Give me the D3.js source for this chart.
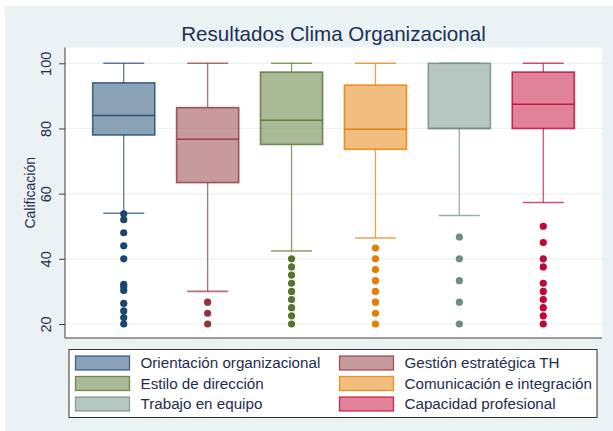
<!DOCTYPE html>
<html lang="es">
  <head>
    <meta charset="utf-8">
    <title>Resultados Clima Organizacional</title>
    <script src="https://d3js.org/d3.v7.min.js"></script>
    <style>
      body { margin: 0; background: #fff; }
      text { font-family: "Liberation Sans", Arial, sans-serif; }
    </style>
  </head>
  <body>
    <svg></svg>
  <script>

// Data

  var categories = ["Orientación organizacional", "Gestión estratégica TH",
                    "Estilo de dirección", "Comunicación e integración",
                    "Trabajo en equipo", "Capacidad profesional"];
  var whiskerLow  = [54, 30, 42.4, 46.4, 53.3, 57.3];
  var q1          = [78, 63.4, 75.1, 73.6, 80, 80];
  var median      = [84, 76.7, 82.5, 79.8, 80, 87.4];
  var q3          = [94, 86.4, 97.3, 93.3, 100, 97.3];
  var whiskerHigh = [100, 100, 100, 100, 100, 100];
  var outliers = [
    [53.8, 52, 48, 44, 40, 32.2, 31.5, 30.3, 26.3, 24, 22, 20],
    [26.7, 23.3, 20],
    [40, 37.5, 35, 32.5, 30, 27.5, 25, 22.5, 20],
    [43.3, 40, 36.7, 33.3, 30, 26.7, 23.3, 20],
    [46.7, 40, 33.3, 26.7, 20],
    [50, 45, 40, 37.5, 32.5, 30, 27.5, 25, 22.5, 20]
  ];
  var yTicks = [20, 40, 60, 80, 100];
  var colors = ["#1a476f", "#90353b", "#55752f", "#e37e00", "#6e8e84", "#c10534"];

  var w = 613;
  var h = 431;
  var plot = {left: 65, right: 602, top: 47.5, bottom: 338};

  var svg = d3.select("svg")
      .attr("width", w)
      .attr("height", h);

  // outer graph region
  svg.append("rect")
      .attr("x", 5)
      .attr("y", 6)
      .attr("width", w - 5)
      .attr("height", h - 6)
      .attr("fill", "#eaf2f3");

  svg.append("rect")
      .attr("x", plot.left)
      .attr("y", plot.top)
      .attr("width", plot.right - plot.left)
      .attr("height", plot.bottom - plot.top)
      .attr("fill", "#fff");

  var xScale = d3.scalePoint()
      .domain(categories)
      .range([plot.left, plot.right])
      .padding(0.7);

  var boxW = xScale.step() * 0.74;
  var capW = boxW * 0.66;

  var yScale = d3.scaleLinear()
      .domain([20, 100])
      .range([324, 63.3]);

  var color = d3.scaleOrdinal()
      .domain(categories)
      .range(colors);

  // gridlines
  svg.append("g")
    .selectAll("line")
    .data(yTicks)
    .enter().append("line")
      .attr("x1", plot.left)
      .attr("x2", plot.right)
      .attr("y1", d => yScale(d))
      .attr("y2", d => yScale(d))
      .attr("stroke", "#eaf2f3")
      .attr("stroke-width", 1.2);

  // y axis
  var yAxis = d3.axisLeft(yScale)
      .tickValues(yTicks)
      .tickSize(6);

  var gy = svg.append("g")
      .attr("class", "yAxis")
      .attr("transform", `translate(${plot.left}, 0)`)
      .call(yAxis);

  gy.select(".domain").remove();
  gy.selectAll(".tick line").attr("stroke", "#404040");
  gy.selectAll(".tick text")
      .attr("font-size", 14.5)
      .attr("fill", "#1e2d4f")
      .attr("x", -19)
      .attr("y", 0)
      .attr("dy", "0.35em")
      .attr("text-anchor", "middle")
      .attr("transform", "rotate(-90, -19, 0)");

  svg.append("line")
      .attr("x1", plot.left).attr("x2", plot.left)
      .attr("y1", plot.top).attr("y2", plot.bottom)
      .attr("stroke", "#404040");

  svg.append("line")
      .attr("x1", plot.left).attr("x2", plot.right)
      .attr("y1", plot.bottom).attr("y2", plot.bottom)
      .attr("stroke", "#404040");

  svg.append("text")
      .attr("transform", `translate(30, ${(plot.top + plot.bottom) / 2}) rotate(-90)`)
      .attr("text-anchor", "middle")
      .attr("dy", "0.35em")
      .attr("font-size", 14)
      .attr("fill", "#1e2d4f")
      .text("Calificación");

  svg.append("text")
      .attr("x", (plot.left + plot.right) / 2)
      .attr("y", 41)
      .attr("text-anchor", "middle")
      .attr("font-size", 20.6)
      .attr("fill", "#1c2f55")
      .text("Resultados Clima Organizacional");

  // boxes

  var boxes = svg.append("g")
    .selectAll("g")
    .data(categories)
    .enter().append("g")
      .attr("transform", d => `translate(${xScale(d)}, 0)`);

  // whiskers
  boxes.append("line")
      .attr("y1", (d, i) => yScale(whiskerLow[i]))
      .attr("y2", (d, i) => yScale(q1[i]))
      .attr("stroke", color)
      .attr("stroke-opacity", 0.7)
      .attr("stroke-width", 1.3);

  boxes.append("line")
      .attr("y1", (d, i) => yScale(q3[i]))
      .attr("y2", (d, i) => yScale(whiskerHigh[i]))
      .attr("stroke", color)
      .attr("stroke-opacity", 0.7)
      .attr("stroke-width", 1.3);

  [whiskerLow, whiskerHigh].forEach(function(arr) {
    boxes.append("line")
        .attr("x1", -capW / 2)
        .attr("x2", capW / 2)
        .attr("y1", (d, i) => yScale(arr[i]))
        .attr("y2", (d, i) => yScale(arr[i]))
        .attr("stroke", color)
        .attr("stroke-opacity", 0.7)
        .attr("stroke-width", 1.6);
  });

  boxes.append("rect")
      .attr("x", -boxW / 2)
      .attr("width", boxW)
      .attr("y", (d, i) => yScale(q3[i]))
      .attr("height", (d, i) => yScale(q1[i]) - yScale(q3[i]))
      .attr("fill", color)
      .attr("fill-opacity", 0.5)
      .attr("stroke", color)
      .attr("stroke-opacity", 0.8)
      .attr("stroke-width", 1.6);

  boxes.append("line")
      .attr("x1", -boxW / 2)
      .attr("x2", boxW / 2)
      .attr("y1", (d, i) => yScale(median[i]))
      .attr("y2", (d, i) => yScale(median[i]))
      .attr("stroke", color)
      .attr("stroke-opacity", 0.85)
      .attr("stroke-width", 1.5);

  boxes.each(function(d, i) {
    d3.select(this).selectAll("circle")
      .data(outliers[i])
      .enter().append("circle")
        .attr("cx", 0)
        .attr("cy", v => yScale(v))
        .attr("r", 3.6)
        .attr("fill", colors[i]);
  });

  // legend

  var legend = {x: 69, y: 349.5, w: 528, h: 68};

  svg.append("rect")
      .attr("x", legend.x)
      .attr("y", legend.y)
      .attr("width", legend.w)
      .attr("height", legend.h)
      .attr("fill", "#fff")
      .attr("stroke", "#333")
      .attr("stroke-width", 1);

  var colX = [75.5, 339.5];
  var rowY = [356, 376.5, 397];

  var items = svg.append("g")
    .selectAll("g")
    .data(categories)
    .enter().append("g")
      .attr("transform", (d, i) => `translate(${colX[i % 2]}, ${rowY[Math.floor(i / 2)]})`);

  items.append("rect")
      .attr("width", 54)
      .attr("height", 14)
      .attr("fill", color)
      .attr("fill-opacity", 0.5)
      .attr("stroke", color)
      .attr("stroke-opacity", 0.8)
      .attr("stroke-width", 1.3);

  items.append("text")
      .attr("x", 65)
      .attr("y", 7)
      .attr("dy", "0.35em")
      .attr("font-size", 15.2)
      .attr("fill", "#1e2d4f")
      .text(d => d);

    </script>
  </body>
</html>
